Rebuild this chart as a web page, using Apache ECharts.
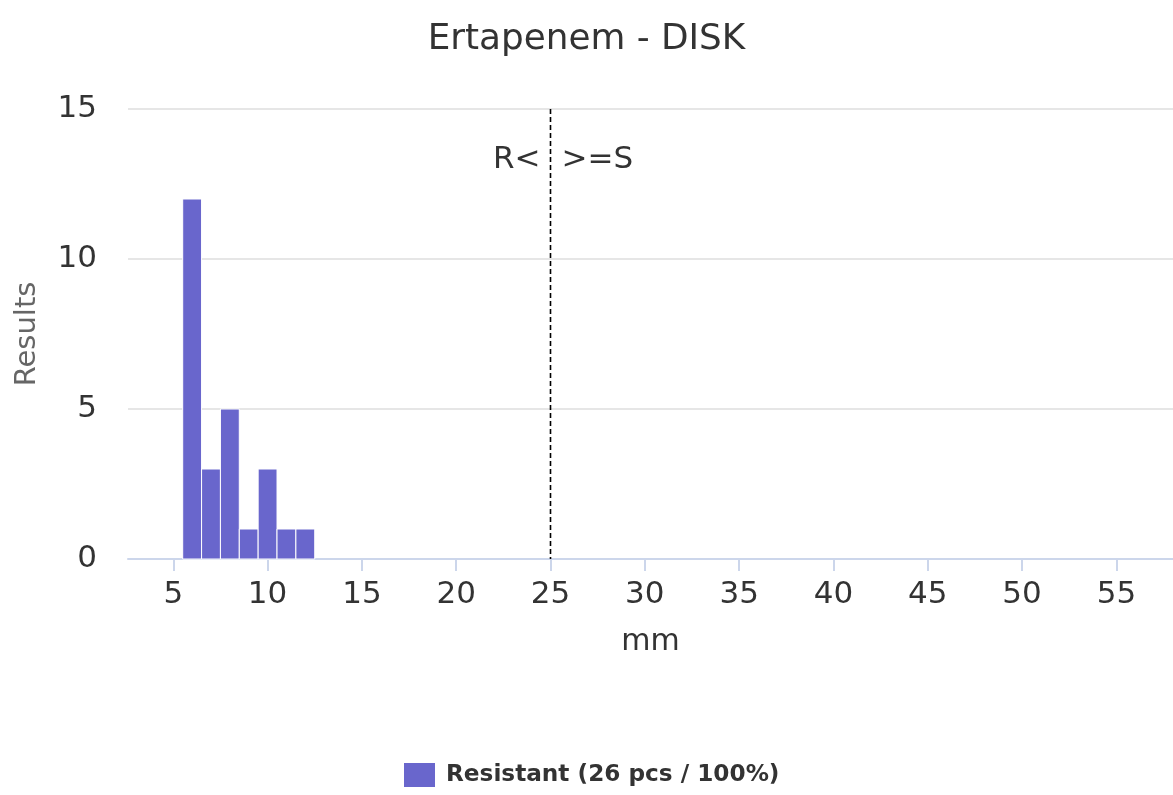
<!DOCTYPE html>
<html>
<head>
<meta charset="utf-8">
<script src="https://cdn.jsdelivr.net/npm/echarts@6/dist/echarts.min.js"></script>
<style>
html,body{margin:0;padding:0;background:#fff;}
#chart{width:1173px;height:795px;}
</style>
</head>
<body>
<div id="chart"></div>
<script>
var titleText = 'Ertapenem - DISK';
var seriesName = 'Resistant (26 pcs / 100%)';
var binValues = [6, 7, 8, 9, 10, 11, 12];
var binCounts = [12, 3, 5, 1, 3, 1, 1];
var xTickValues = [5, 10, 15, 20, 25, 30, 35, 40, 45, 50, 55];
var yTickValues = [0, 5, 10, 15];
var breakpoint = 25;
var breakLabels = ['R<', '>=S'];
var xAxisName = 'mm';
var yAxisName = 'Results';

var FONT = 'DejaVu Sans';
var chart = echarts.init(document.getElementById('chart'), null, {renderer: 'canvas'});

var barData = binValues.map(function (v, i) { return [v, binCounts[i]]; });

var option = {
  animation: false,
  backgroundColor: '#ffffff',
  textStyle: {fontFamily: FONT},
  title: {
    text: titleText,
    left: 'center',
    top: 17,
    textStyle: {fontFamily: FONT, fontSize: 35.8, fontWeight: 'normal', color: '#333333'}
  },
  legend: {
    bottom: 3,
    left: 399,
    itemWidth: 31,
    itemHeight: 24,
    itemGap: 10,
    icon: 'rect',
    data: [seriesName],
    textStyle: {fontFamily: FONT, fontSize: 23.2, fontWeight: 'bold', color: '#333333', padding: [0, 0, 0, 6]}
  },
  grid: {left: 128, right: 0, top: 109, bottom: 236},
  xAxis: {
    type: 'value',
    min: 2.6,
    max: 58,
    name: xAxisName,
    nameLocation: 'middle',
    nameGap: 68,
    nameTextStyle: {fontFamily: FONT, fontSize: 30, color: '#333333'},
    axisLine: {show: true, lineStyle: {color: '#ccd6eb', width: 2}},
    axisTick: {show: true, customValues: xTickValues, length: 12, lineStyle: {color: '#ccd6eb', width: 2}},
    axisLabel: {customValues: xTickValues, fontFamily: FONT, fontSize: 31, color: '#333333', margin: 20},
    splitLine: {show: false}
  },
  yAxis: {
    type: 'value',
    min: 0,
    max: 15,
    interval: 5,
    name: yAxisName,
    nameLocation: 'middle',
    nameGap: 86,
    nameRotate: 90,
    nameTextStyle: {fontFamily: FONT, fontSize: 29, color: '#666666'},
    axisLine: {show: false},
    axisTick: {show: false},
    axisLabel: {fontFamily: FONT, fontSize: 31, color: '#333333', margin: 31},
    splitLine: {lineStyle: {color: '#e6e6e6', width: 2}}
  },
  series: [
    {
      name: seriesName,
      type: 'custom',
      data: barData,
      itemStyle: {color: '#6966cc'},
      encode: {x: 0, y: 1},
      renderItem: function (params, api) {
        var x = api.value(0), y = api.value(1);
        var p0 = api.coord([x - 0.5, y]);
        var p1 = api.coord([x + 0.5, 0]);
        return {
          type: 'rect',
          shape: {x: p0[0], y: p0[1], width: p1[0] - p0[0], height: p1[1] - p0[1]},
          style: {fill: '#6966cc', stroke: '#ffffff', lineWidth: 1}
        };
      },
      z: 3
    },
    {
      name: 'breakpoint',
      type: 'custom',
      data: [[breakpoint, 15]],
      silent: true,
      renderItem: function (params, api) {
        var top = api.coord([api.value(0), api.value(1)]);
        var bot = api.coord([api.value(0), 0]);
        var ly = api.coord([api.value(0), 13.3])[1];
        return {
          type: 'group',
          children: [
            {type: 'line', shape: {x1: Math.round(top[0]) - 0.5, y1: top[1], x2: Math.round(top[0]) - 0.5, y2: bot[1]},
             style: {stroke: '#000000', lineWidth: 1.6, lineDash: [5, 3]}},
            {type: 'text', x: top[0] - 10, y: ly,
             style: {text: breakLabels[0], fill: '#333333', font: '31px "DejaVu Sans"', align: 'right', verticalAlign: 'middle'}},
            {type: 'text', x: top[0] + 11, y: ly,
             style: {text: breakLabels[1], fill: '#333333', font: '31px "DejaVu Sans"', align: 'left', verticalAlign: 'middle'}}
          ]
        };
      },
      z: 4
    }
  ]
};
chart.setOption(option);
</script>
</body>
</html>
